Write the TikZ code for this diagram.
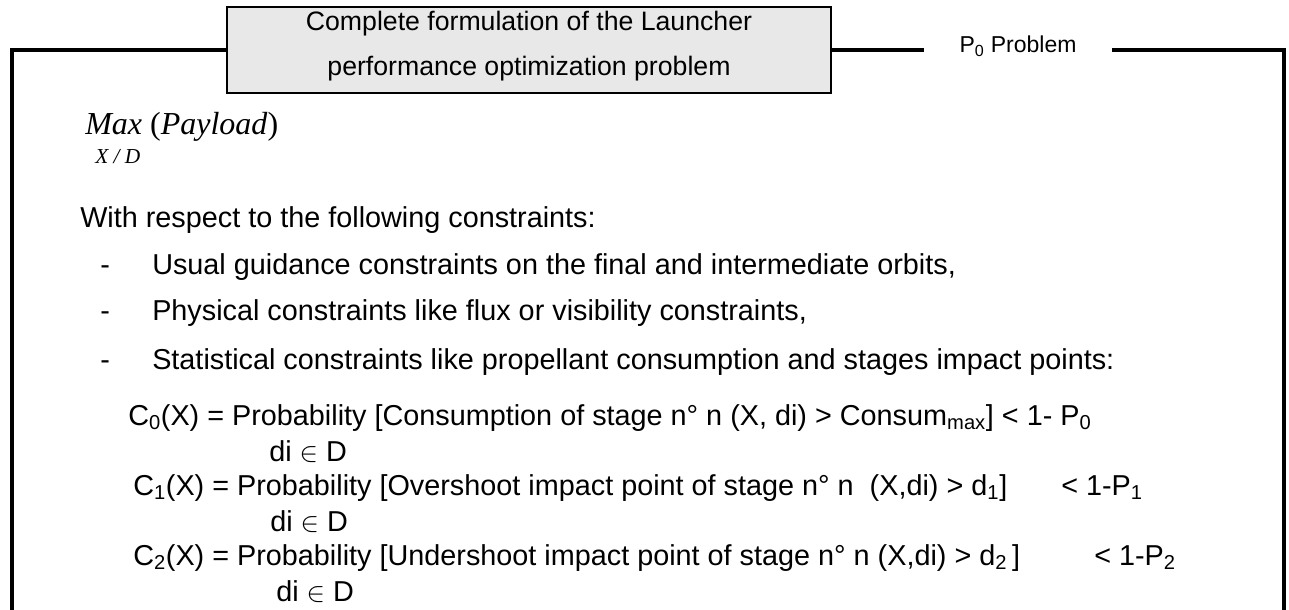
\documentclass[tikz,border=0pt]{standalone}
\usepackage{fontspec}
\setmainfont{Liberation Sans}
\newfontfamily\timesfont{Liberation Serif}
\usetikzlibrary{positioning}
\newcommand{\lo}[1]{\textsubscript{#1}}
\tikzset{
  frameline/.style={line width=2.5pt,line cap=rect},
  titlebox/.style={draw,line width=2pt,fill=black!9,minimum width=453pt,
    minimum height=64.5pt,align=center,inner sep=0pt,
    font=\fontsize{20}{33.75}\selectfont},
  body/.style={anchor=base west,inner sep=0pt,font=\fontsize{21.6}{26}\selectfont},
}
\begin{document}
\begin{tikzpicture}[x=0.75pt,y=-0.75pt]
 \useasboundingbox (0,0) rectangle (1289,610);
 % header box and frame
 \node (title) [titlebox] at (529,50)
   {\rule{0pt}{15pt}Complete formulation of the Launcher\\
    performance optimization problem\rule[-11.25pt]{0pt}{0pt}};
 \node (probname) [anchor=base,inner xsep=28pt,inner ysep=0pt,
   font=\fontsize{17.25}{20}\selectfont] at (1018,53) {P\lo{0} Problem};
 \coordinate (tl) at (12,50);
 \coordinate (bl) at (12,614);
 \coordinate (tr) at (1284,50);
 \coordinate (br) at (1284,614);
 \draw[frameline] (title.west) -- (tl) -- (bl);
 \draw[frameline] (title.east) -- (title.east -| probname.west);
 \draw[frameline] (title.east -| probname.east) -- (tr) -- (br);
 % objective
 \node (maxpay) [anchor=base west,inner sep=0pt,
   font=\timesfont\fontsize{24}{28}\selectfont] at (85,134)
   {\itshape Max \upshape(\itshape Payload\/\upshape)};
 \node (xd) [anchor=base west,inner sep=0pt,
   font=\timesfont\itshape\fontsize{16}{18}\selectfont] at (95,163) {X / D};
 % constraints
 \node (intro) [body] at (80,227) {With respect to the following constraints:};
 \foreach \yy/\txt [count=\k] in {
   274/{Usual guidance constraints on the final and intermediate orbits,},
   320/{Physical constraints like flux or visibility constraints,},
   369/{Statistical constraints like propellant consumption and stages impact points:}} {
   \node (dash\k) [body] at (100,\yy) {-};
   \node (item\k) [body] at (152,\yy) {\txt};
 }
 \node (c0) [body] at (128,425)
   {C\lo{0}(X) = Probability [Consumption of stage n° n (X, di) > Consum\lo{max}] < 1- P\lo{0}};
 \node (d0) [body] at (269,461) {di $\in$ D};
 \node (c1) [body] at (133,495)
   {C\lo{1}(X) = Probability [Overshoot impact point of stage n° n\ \ (X,di) > d\lo{1}]};
 \node (r1) [body] at (1061,495) {< 1-P\lo{1}};
 \node (d1) [body] at (270,531) {di $\in$ D};
 \node (c2) [body] at (133,565)
   {C\lo{2}(X) = Probability [Undershoot impact point of stage n° n (X,di) > d\lo{2}\,]};
 \node (r2) [body] at (1094,565) {< 1-P\lo{2}};
 \node (d2) [body] at (276,601) {di $\in$ D};
\end{tikzpicture}
\end{document}
